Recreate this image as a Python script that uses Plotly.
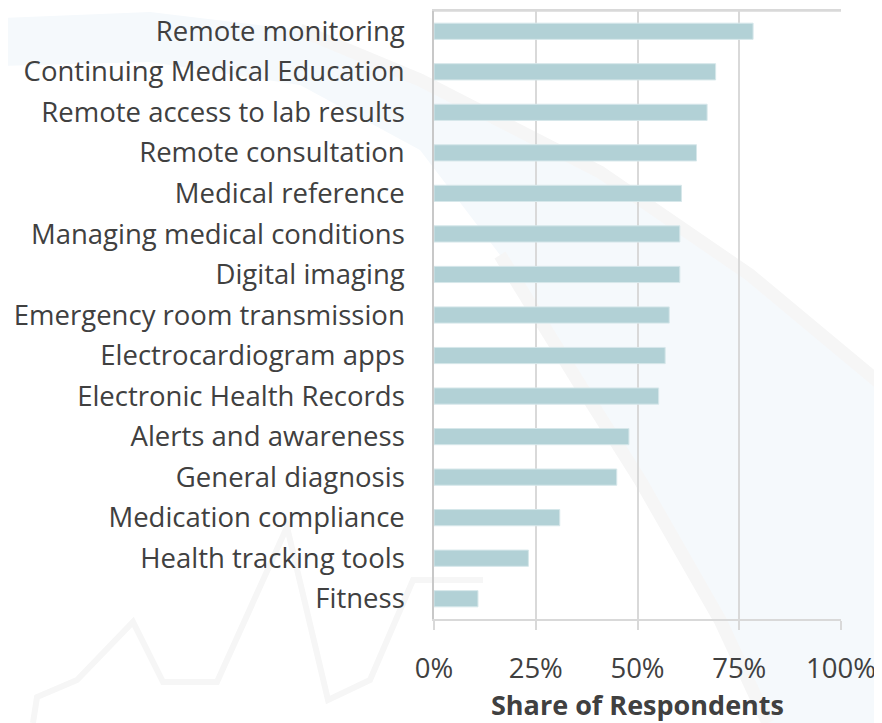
import plotly.graph_objects as go

# ---- data ----
categories = [
    "Remote monitoring",
    "Continuing Medical Education",
    "Remote access to lab results",
    "Remote consultation",
    "Medical reference",
    "Managing medical conditions",
    "Digital imaging",
    "Emergency room transmission",
    "Electrocardiogram apps",
    "Electronic Health Records",
    "Alerts and awareness",
    "General diagnosis",
    "Medication compliance",
    "Health tracking tools",
    "Fitness",
]
shares = [78.4, 69.2, 67.1, 64.5, 60.8, 60.4, 60.4, 57.8, 56.8, 55.2, 47.9, 44.9, 30.9, 23.2, 10.8]
tick_vals = [0, 25, 50, 75, 100]
tick_text = ["0%", "25%", "50%", "75%", "100%"]
x_title = "Share of Respondents"

# ---- layout geometry (page has an 8px body margin) ----
OFF = 8
W, H = 882 - OFF, 723 - OFF
ML, MT = 434 - OFF, 11 - OFF
PW, PH = 407, 608
MR, MB = W - ML - PW, H - MT - PH

def px(x, y):
    # screen pixel -> paper coords
    return (x - OFF - ML) / PW, (MT + PH - (y - OFF)) / PH

def path(points):
    s = ""
    for i, (x, y) in enumerate(points):
        a, b = px(x, y)
        s += ("M" if i == 0 else "L") + f"{a:.4f},{b:.4f} "
    return s

FONT = "Open Sans"
FS = 27.5
TXT = "#404040"

fig = go.Figure()
fig.add_trace(go.Bar(
    x=shares, y=categories, orientation="h",
    marker=dict(color="#b2d1d6", line=dict(color="#d6e7ea", width=1)),
    hoverinfo="x+y",
))

# decorative background swoosh and ECG line
swoosh = [(0, 18), (150, 12), (300, 30), (420, 80), (600, 172), (750, 275), (882, 385),
          (882, 723), (768, 723), (720, 620), (640, 480), (577, 380), (500, 255),
          (420, 150), (300, 85), (150, 62), (0, 66)]
shapes = [
    dict(type="path", xref="paper", yref="paper", path=path(swoosh) + "Z",
         fillcolor="#f5f9fc", line=dict(width=0), layer="below"),
    dict(type="path", xref="paper", yref="paper",
         path=path([(300, 30), (420, 80), (600, 172), (750, 275), (882, 385)]),
         line=dict(color="#f6f6f6", width=13), layer="below"),
    dict(type="path", xref="paper", yref="paper",
         path=path([(500, 255), (577, 380), (640, 480), (720, 620), (768, 723)]),
         line=dict(color="#f6f6f6", width=13), layer="below"),
    dict(type="path", xref="paper", yref="paper",
         path=path([(33, 723), (37, 697), (77, 680), (133, 622), (163, 682), (217, 682),
                    (287, 527), (328, 700), (370, 680), (413, 580), (483, 580)]),
         line=dict(color="#f6f6f6", width=6), layer="below"),
]

fig.update_layout(
    width=W, height=H,
    margin=dict(l=ML, r=MR, t=MT, b=MB, pad=0, autoexpand=False),
    paper_bgcolor="white", plot_bgcolor="rgba(0,0,0,0)",
    bargap=0.6, showlegend=False,
    font=dict(family=FONT, color=TXT, size=FS),
    shapes=shapes,
)
fig.update_yaxes(
    autorange="reversed", showgrid=False, ticks="", ticklabelstandoff=22,
    showline=True, linecolor="#c8c8c8", linewidth=1.5, mirror=False,
    automargin=False,
    tickfont=dict(family=FONT, size=FS, color=TXT),
)
fig.update_xaxes(
    range=[0, 100], tickvals=tick_vals, ticktext=tick_text,
    showgrid=True, gridcolor="#d9d9d9", gridwidth=1.5,
    showline=True, linecolor="#d9d9d9", linewidth=1.5, mirror=True,
    ticks="outside", ticklen=9, tickwidth=1.5, tickcolor="#d9d9d9",
    ticklabelstandoff=15, zeroline=False, automargin=False,
    tickfont=dict(family=FONT, size=FS, color=TXT),
    title=dict(text="<b>" + x_title + "</b>", standoff=7,
               font=dict(family=FONT, size=27, color=TXT)),
)
# top border line
fig.add_shape(type="line", xref="paper", yref="paper", x0=0, x1=1, y0=1, y1=1,
              line=dict(color="#d9d9d9", width=1.5))

fig.write_html("out.html")
